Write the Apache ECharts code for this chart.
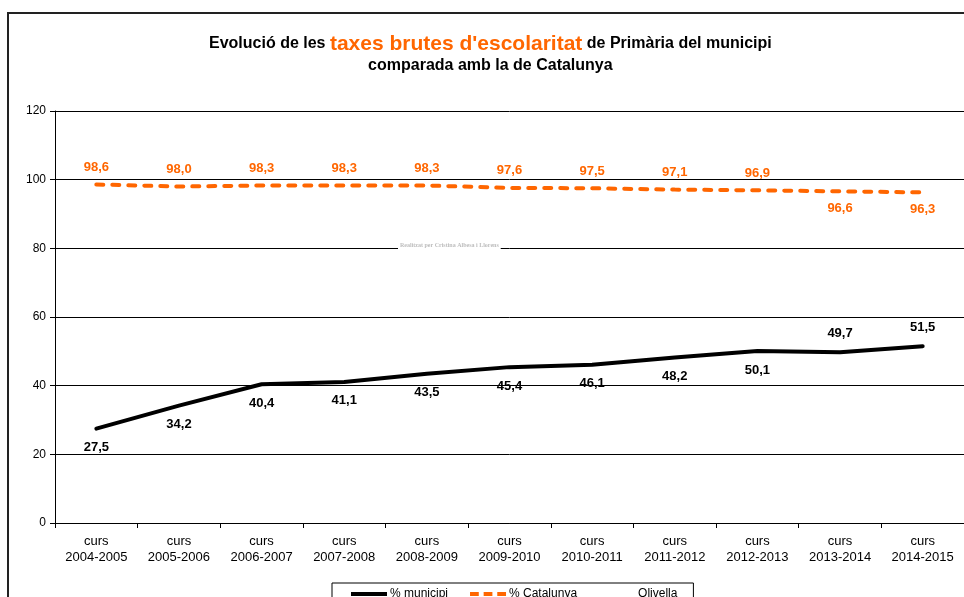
<!DOCTYPE html>
<html>
<head>
<meta charset="utf-8">
<script src="https://cdn.jsdelivr.net/npm/echarts@6/dist/echarts.min.js"></script>
<style>
html,body{margin:0;padding:0;background:#fff;}
#chart{width:964px;height:597px;}
</style>
</head>
<body>
<div id="chart"></div>
<script>
var cursos=['curs\n2004-2005','curs\n2005-2006','curs\n2006-2007','curs\n2007-2008','curs\n2008-2009','curs\n2009-2010','curs\n2010-2011','curs\n2011-2012','curs\n2012-2013','curs\n2013-2014','curs\n2014-2015'];
var municipi=[27.5,34.2,40.4,41.1,43.5,45.4,46.1,48.2,50.1,49.7,51.5];
var catalunya=[98.6,98.0,98.3,98.3,98.3,97.6,97.5,97.1,96.9,96.6,96.3];
// on va l'etiqueta: a sobre o a sota de la linia
var posMunicipi=['bottom','bottom','bottom','bottom','bottom','bottom','bottom','bottom','bottom','top','top'];
var posCatalunya=['top','top','top','top','top','top','top','top','top','bottom','bottom'];

function fmt(v){ return v.toFixed(1).replace('.',','); }

var chart=echarts.init(document.getElementById('chart'));
var option={
    backgroundColor:'#fff',
    textStyle:{fontFamily:'Liberation Sans, Arial, sans-serif'},
    title:{
        left:204,
        top:28,
        text:'{a|Evolució de les }{b|taxes brutes d\'escolaritat}{a| de Primària del municipi}\n{c|comparada amb la de Catalunya}',
        textStyle:{
            rich:{
                a:{fontSize:16,fontWeight:'bold',color:'#000',fontFamily:'Liberation Sans',lineHeight:22},
                b:{fontSize:21,fontWeight:'bold',color:'#FF6600',fontFamily:'Liberation Sans',lineHeight:22},
                c:{fontSize:16,fontWeight:'bold',color:'#000',fontFamily:'Liberation Sans',lineHeight:22,align:'center'}
            }
        }
    },
    grid:{left:55,right:-3,top:111,bottom:74,containLabel:false},
    legend:{
        left:332,
        top:583,
        itemWidth:36,
        itemHeight:4,
        itemGap:22,
        borderColor:'#000',
        borderWidth:1,
        padding:[5,16,8,19],
        textStyle:{fontSize:12,color:'#000',fontFamily:'Liberation Sans',padding:[0,0,0,-2]},
        data:[
            {name:'% municipi',icon:'rect',itemStyle:{color:'#000',opacity:1}},
            {name:'% Catalunya',icon:'path://M0,0H9V4H0Z M14,0H23V4H14Z M28,0H37V4H28Z',itemStyle:{color:'#FF6600',opacity:1}},
            {name:'Olivella',icon:'rect',itemStyle:{color:'rgba(0,0,0,0)'}}
        ]
    },
    xAxis:{
        type:'category',
        data:cursos,
        boundaryGap:true,
        axisLine:{lineStyle:{color:'#000',width:1}},
        axisTick:{show:true,length:5,lineStyle:{color:'#000'}},
        axisLabel:{fontSize:13,color:'#000',lineHeight:16,margin:10,fontFamily:'Liberation Sans'},
        splitLine:{show:false}
    },
    yAxis:{
        type:'value',
        min:0,max:120,interval:20,
        axisLine:{show:true,lineStyle:{color:'#000'}},
        axisTick:{show:true,length:5,lineStyle:{color:'#000'}},
        axisLabel:{fontSize:12,color:'#000',margin:9,fontFamily:'Liberation Sans'},
        splitLine:{show:true,lineStyle:{color:'#000',width:1}}
    },
    graphic:[
        {type:'polyline',shape:{points:[[8,597],[8,13],[964,13]]},style:{stroke:'#222',lineWidth:2,fill:null},silent:true},
        {type:'text',left:398,top:241,style:{text:'Realitzat per Cristina Albesa i Llorens',fontSize:6,fontWeight:'bold',fill:'#bdbdbd',backgroundColor:'#fff',padding:[1,2],fontFamily:'Liberation Sans Narrow'},z:10}
    ],
    series:[
        {
            name:'% municipi',
            type:'line',
            data:municipi.map(function(v,i){return {value:v,label:{position:posMunicipi[i]}};}),
            symbol:'circle',
            symbolSize:1,
            showSymbol:true,
            lineStyle:{color:'#000',width:4,cap:'round'},
            itemStyle:{color:'rgba(0,0,0,0)'},
            label:{show:true,color:'#000',fontWeight:'bold',fontSize:13,distance:12,fontFamily:'Liberation Sans',formatter:function(p){return fmt(p.value);}}
        },
        {
            name:'% Catalunya',
            type:'line',
            data:catalunya.map(function(v,i){return {value:v,label:{position:posCatalunya[i]}};}),
            symbol:'circle',
            symbolSize:1,
            showSymbol:true,
            lineStyle:{color:'#FF6600',width:4,type:[7,9],cap:'round'},
            itemStyle:{color:'rgba(0,0,0,0)'},
            label:{show:true,color:'#FF6600',fontWeight:'bold',fontSize:13,distance:10,fontFamily:'Liberation Sans',formatter:function(p){return fmt(p.value);}}
        },
        {
            name:'Olivella',
            type:'line',
            data:[],
            symbol:'none',
            lineStyle:{color:'rgba(0,0,0,0)'}
        }
    ]
};
chart.setOption(option);
</script>
</body>
</html>
